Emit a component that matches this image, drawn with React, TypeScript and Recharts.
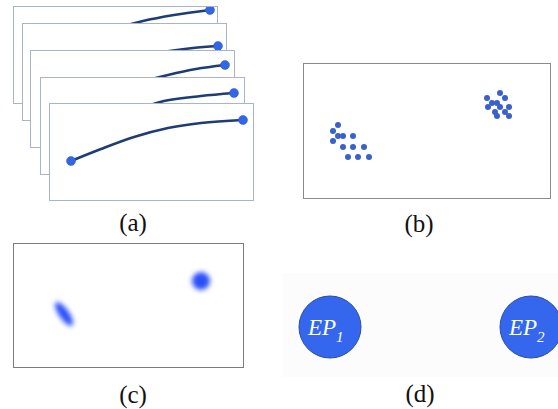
import { LineChart, Line, XAxis, YAxis, ScatterChart, Scatter } from "recharts"

// (a) five stacked curve plots, back to front. x across the frame, y up from its bottom
const curve1 = [
  { x: 21, y: 43 }, { x: 60, y: 58 }, { x: 100, y: 73 }, { x: 129, y: 81 }, { x: 160, y: 87 }, { x: 196, y: 92 },
]
const curve2 = [
  { x: 21, y: 23 }, { x: 60, y: 43 }, { x: 100, y: 58 }, { x: 140, y: 67 }, { x: 170, y: 71 }, { x: 195, y: 73 },
]
const curve3 = [
  { x: 21, y: 28 }, { x: 60, y: 46 }, { x: 100, y: 61 }, { x: 137, y: 71 }, { x: 165, y: 77 }, { x: 194, y: 81 },
]
const curve4 = [
  { x: 21, y: 30 }, { x: 60, y: 48 }, { x: 95, y: 63 }, { x: 123, y: 72 }, { x: 160, y: 77 }, { x: 193, y: 80 },
]
const curve5 = [
  { x: 21, y: 38 }, { x: 51, y: 50 }, { x: 84, y: 62 }, { x: 118, y: 71 }, { x: 151, y: 76 }, { x: 193, y: 79 },
]
const curves = [curve1, curve2, curve3, curve4, curve5]

// (b) two point clouds (y measured down from the top of the frame)
const cloud1 = [
  { x: 34, y: 61 }, { x: 29, y: 67 }, { x: 34, y: 72 }, { x: 39, y: 72 }, { x: 49, y: 72 }, { x: 29, y: 77 },
  { x: 39, y: 83 }, { x: 49, y: 83 }, { x: 60, y: 83 }, { x: 44, y: 93 }, { x: 54, y: 93 }, { x: 65, y: 93 },
]
const cloud2 = [
  { x: 196, y: 29 }, { x: 183, y: 34 }, { x: 201, y: 34 }, { x: 188, y: 39 }, { x: 193, y: 39 }, { x: 184, y: 43 },
  { x: 196, y: 43 }, { x: 205, y: 43 }, { x: 191, y: 48 }, { x: 201, y: 48 }, { x: 193, y: 52 }, { x: 205, y: 52 },
]

// (c) fitted densities: centre, spread along/across the main axis, tilt in degrees
const densities = [
  { x: 50, y: 70, sa: 14, sb: 5, tilt: 55 },
  { x: 187, y: 37, sa: 9, sb: 9, tilt: 0 },
]

// (d) exemplar points
const exemplars = [
  { x: 60, y: 72, name: "EP", sub: "1" },
  { x: 261, y: 72, name: "EP", sub: "2" },
]

const panelLabels = ["(a)", "(b)", "(c)", "(d)"]

const SERIF = "'Times New Roman', 'Liberation Serif', Tinos, serif"

const framePos = [
  { left: 13, top: 6 },
  { left: 22, top: 23 },
  { left: 30, top: 50 },
  { left: 40, top: 77 },
  { left: 49, top: 103 },
]
const labelPos = [
  { x: 133, y: 223 },
  { x: 419, y: 224 },
  { x: 133, y: 395 },
  { x: 420, y: 394 },
]

const FW = 205
const FH = 98

function EndDot(props: any, len: number) {
  const { cx, cy, index } = props
  if (index !== 0 && index !== len - 1) return <g key={index} />
  return <circle key={index} cx={cx} cy={cy} r={4.5} fill="#3366e6" stroke="#2f58c8" strokeWidth={0.5} />
}

function Blob(props: any) {
  const { cx, cy, payload, index } = props
  const id = "blur" + index
  return (
    <g>
      <defs>
        <filter id={id} x="-100%" y="-100%" width="300%" height="300%">
          <feGaussianBlur stdDeviation={2.8} />
        </filter>
      </defs>
      <ellipse
        cx={cx}
        cy={cy}
        rx={payload.sa}
        ry={payload.sb}
        fill="#2a4ff7"
        filter={`url(#${id})`}
        transform={`rotate(${payload.tilt} ${cx} ${cy})`}
      />
    </g>
  )
}

function Exemplar(props: any) {
  const { cx, cy, payload } = props
  return (
    <g>
      <circle cx={cx} cy={cy} r={31} fill="#3567ee" stroke="#2c4f9e" strokeWidth={1} />
      <text x={cx - 22} y={cy + 8} fill="#fff" style={{ fontFamily: SERIF, fontStyle: "italic", fontSize: 23 }}>
        {payload.name}
        <tspan dy={7} style={{ fontSize: 15 }}>{payload.sub}</tspan>
      </text>
    </g>
  )
}

export default function App() {
  return (
    <div
      style={{
        position: "absolute",
        left: 0,
        top: 0,
        width: 558,
        height: 409,
        background: "#fff",
        overflow: "hidden",
        fontFamily: SERIF,
      }}
    >
      {curves.map((c, i) => (
        <div
          key={i}
          style={{
            position: "absolute",
            left: framePos[i].left,
            top: framePos[i].top,
            width: FW,
            height: FH,
            boxSizing: "border-box",
            border: "1.5px solid #a9b4ca",
            background: "#fff",
          }}
        >
          <LineChart width={FW - 3} height={FH - 3} data={c} margin={{ top: 0, right: 0, bottom: 0, left: 0 }}>
            <XAxis type="number" dataKey="x" domain={[0, FW - 3]} hide />
            <YAxis type="number" domain={[0, FH - 3]} hide />
            <Line
              type="monotone"
              dataKey="y"
              stroke="#1d3d74"
              strokeWidth={2.5}
              dot={(p: any) => EndDot(p, c.length)}
              isAnimationActive={false}
            />
          </LineChart>
        </div>
      ))}

      <div
        style={{
          position: "absolute",
          left: 303,
          top: 63,
          width: 248,
          height: 136,
          boxSizing: "border-box",
          border: "1.5px solid #8a8a8a",
        }}
      >
        <ScatterChart width={245} height={133} margin={{ top: 0, right: 0, bottom: 0, left: 0 }}>
          <XAxis type="number" dataKey="x" domain={[0, 245]} hide />
          <YAxis type="number" dataKey="y" domain={[0, 133]} reversed hide />
          {[cloud1, cloud2].map((cl, i) => (
            <Scatter
              key={i}
              data={cl}
              isAnimationActive={false}
              shape={(p: any) => <circle cx={p.cx} cy={p.cy} r={3} fill="#3a60cc" />}
            />
          ))}
        </ScatterChart>
      </div>

      <div
        style={{
          position: "absolute",
          left: 13,
          top: 243,
          width: 231,
          height: 125,
          boxSizing: "border-box",
          border: "1.5px solid #7c7c7c",
        }}
      >
        <ScatterChart width={228} height={122} margin={{ top: 0, right: 0, bottom: 0, left: 0 }}>
          <XAxis type="number" dataKey="x" domain={[0, 228]} hide />
          <YAxis type="number" dataKey="y" domain={[0, 122]} reversed hide />
          <Scatter data={densities} isAnimationActive={false} shape={Blob} />
        </ScatterChart>
      </div>

      <div style={{ position: "absolute", left: 283, top: 273, width: 275, height: 104, background: "#fcfcfc" }} />
      <div style={{ position: "absolute", left: 270, top: 255, width: 288, height: 140 }}>
        <ScatterChart width={288} height={140} margin={{ top: 0, right: 0, bottom: 0, left: 0 }}>
          <XAxis type="number" dataKey="x" domain={[0, 288]} hide />
          <YAxis type="number" dataKey="y" domain={[0, 140]} reversed hide />
          <Scatter data={exemplars} isAnimationActive={false} shape={Exemplar} />
        </ScatterChart>
      </div>

      {panelLabels.map((t, i) => (
        <div
          key={t}
          style={{
            position: "absolute",
            left: labelPos[i].x - 30,
            top: labelPos[i].y - 14,
            width: 60,
            textAlign: "center",
            fontSize: 25,
            lineHeight: "28px",
            color: "#111",
          }}
        >
          {t}
        </div>
      ))}
    </div>
  )
}
